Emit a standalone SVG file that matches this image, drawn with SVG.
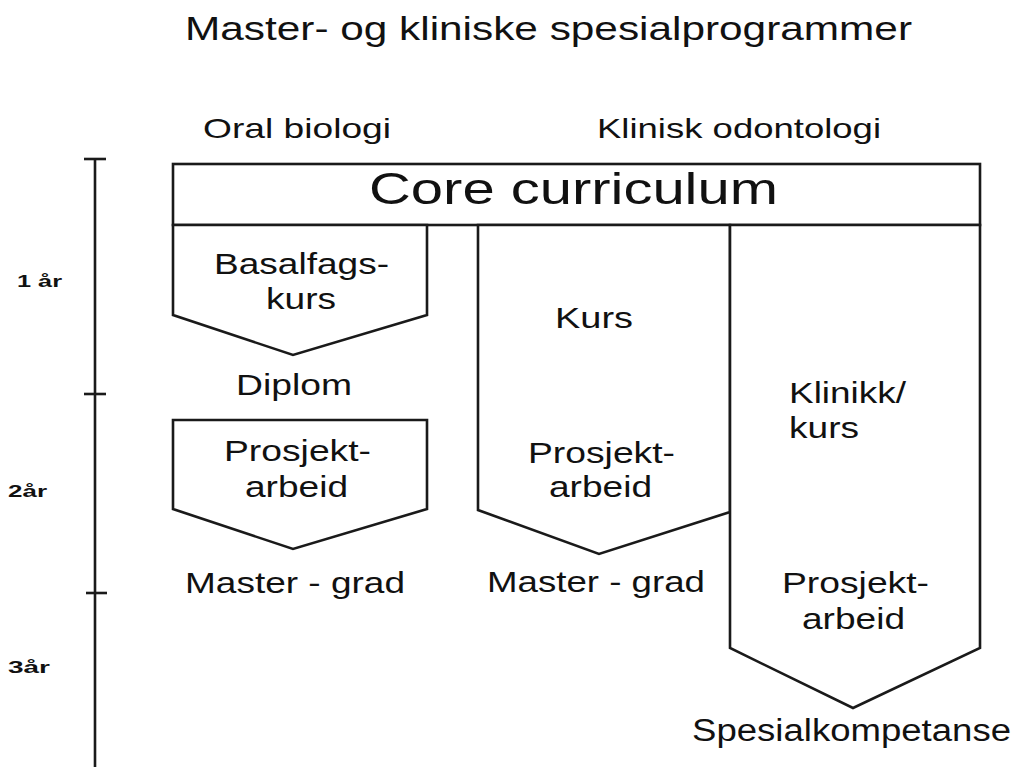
<svg xmlns="http://www.w3.org/2000/svg" width="1016" height="767" viewBox="0 0 1016 767">
<style>
.s{fill:#fff;stroke:#1a1a1a;stroke-width:2.6;stroke-linejoin:miter}
.t{font-family:"Liberation Sans",Arial,sans-serif;fill:#111;font-size:29px}
.b{font-family:"Liberation Sans",Arial,sans-serif;fill:#111;font-size:17px;font-weight:bold}
.ax{stroke:#1a1a1a;stroke-width:2.6;fill:none}
</style>
<rect width="1016" height="767" fill="#fff"/>
<g id="title">
<text class="t" x="185" y="40" style="font-size:33px" textLength="727" lengthAdjust="spacingAndGlyphs">Master- og kliniske spesialprogrammer</text>
<text class="t" x="203" y="138" style="font-size:28px" textLength="188" lengthAdjust="spacingAndGlyphs">Oral biologi</text>
<text class="t" x="597" y="138" style="font-size:28px" textLength="284" lengthAdjust="spacingAndGlyphs">Klinisk odontologi</text>
</g>
<g id="connectors">
<line class="ax" x1="95" y1="159" x2="95" y2="767"/>
<line class="ax" x1="84" y1="159" x2="106" y2="159"/>
<line class="ax" x1="84" y1="394" x2="106" y2="394"/>
<line class="ax" x1="86" y1="593" x2="107" y2="593"/>
</g>
<g id="axis-labels">
<text class="b" x="17" y="287" textLength="45" lengthAdjust="spacingAndGlyphs">1 år</text>
<text class="b" x="8" y="497" textLength="39" lengthAdjust="spacingAndGlyphs">2år</text>
<text class="b" x="8" y="673" textLength="42" lengthAdjust="spacingAndGlyphs">3år</text>
</g>
<g id="core">
<rect class="s" x="173" y="164" width="807" height="61"/>
<text class="t" x="369" y="204" style="font-size:45px" textLength="409" lengthAdjust="spacingAndGlyphs">Core curriculum</text>
</g>
<g id="basalfag">
<polygon class="s" points="173,225 427,225 427,315 293,355 173,315"/>
<text class="t" x="214" y="274" textLength="175" lengthAdjust="spacingAndGlyphs">Basalfags-</text>
<text class="t" x="266" y="309" textLength="70" lengthAdjust="spacingAndGlyphs">kurs</text>
</g>
<g id="diplom">
<text class="t" x="236" y="395" textLength="116" lengthAdjust="spacingAndGlyphs">Diplom</text>
</g>
<g id="prosjekt-oral">
<polygon class="s" points="173,420 427,420 427,509 293,549 173,509"/>
<text class="t" x="224" y="461" textLength="147" lengthAdjust="spacingAndGlyphs">Prosjekt-</text>
<text class="t" x="245" y="497" textLength="103" lengthAdjust="spacingAndGlyphs">arbeid</text>
</g>
<g id="master-oral">
<text class="t" x="185" y="593" textLength="220" lengthAdjust="spacingAndGlyphs">Master - grad</text>
</g>
<g id="kurs-master">
<polygon class="s" points="478,225 730,225 730,512 599,554 478,510"/>
<text class="t" x="555" y="328" textLength="78" lengthAdjust="spacingAndGlyphs">Kurs</text>
<text class="t" x="528" y="463" textLength="147" lengthAdjust="spacingAndGlyphs">Prosjekt-</text>
<text class="t" x="549" y="497" textLength="103" lengthAdjust="spacingAndGlyphs">arbeid</text>
</g>
<g id="master-klinisk">
<text class="t" x="487" y="592" textLength="218" lengthAdjust="spacingAndGlyphs">Master - grad</text>
</g>
<g id="klinikk-spesial">
<polygon class="s" points="730,225 980,225 980,648 853,708 730,648"/>
<text class="t" x="789" y="403" textLength="117" lengthAdjust="spacingAndGlyphs">Klinikk/</text>
<text class="t" x="789" y="438" textLength="70" lengthAdjust="spacingAndGlyphs">kurs</text>
<text class="t" x="782" y="593" textLength="147" lengthAdjust="spacingAndGlyphs">Prosjekt-</text>
<text class="t" x="802" y="629" textLength="103" lengthAdjust="spacingAndGlyphs">arbeid</text>
</g>
<g id="spesialkompetanse">
<text class="t" x="692" y="741" style="font-size:31px" textLength="319" lengthAdjust="spacingAndGlyphs">Spesialkompetanse</text>
</g>
</svg>
